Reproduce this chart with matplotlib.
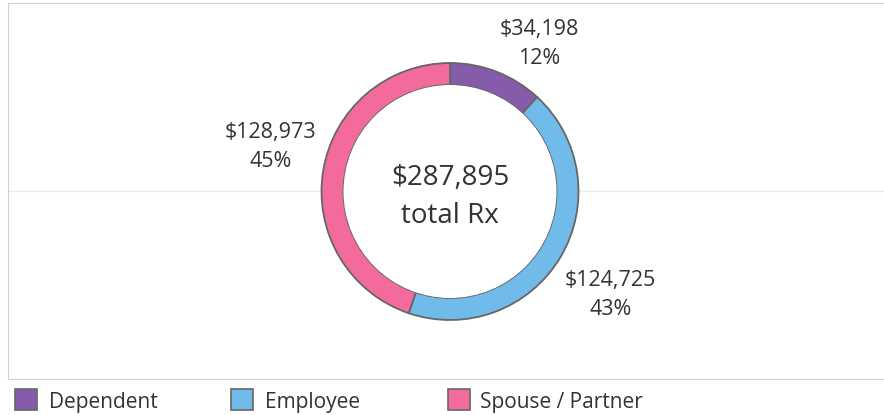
import matplotlib
matplotlib.use("Agg")
import matplotlib.pyplot as plt
from matplotlib.patches import Rectangle, Circle

# data
categories = ["Dependent", "Employee", "Spouse / Partner"]
values = [34198, 124725, 128973]
pct_labels = ["12%", "43%", "45%"]
total_rx = 287895
colors = ["#855CAA", "#71BBEB", "#F26B9C"]

plt.rcParams["font.family"] = ["Open Sans", "DejaVu Sans"]
TXT = "#333333"

W, H = 884, 415
fig = plt.figure(figsize=(W / 100, H / 100), dpi=100)

# plot frame, pixel units (right edge runs off the image)
fx0, fy0, fx1, fy1 = 8, 3, 890, 379
ax = fig.add_axes([fx0 / W, 1 - fy1 / H, (fx1 - fx0) / W, (fy1 - fy0) / H])
cx, cy = 450 - fx0, fy1 - 191.5
R, ring = 128.5, 22

ax.axhline(cy, color="#ececec", lw=1, zorder=0)
wedges, _ = ax.pie(values, colors=colors, startangle=90, counterclock=False,
                   radius=R, center=(cx, cy), frame=True,
                   wedgeprops=dict(width=ring, edgecolor="#666666", linewidth=1.3))
ax.add_patch(Circle((cx, cy), R - ring - 0.7, color="white", zorder=1))
ax.set_xlim(0, fx1 - fx0)
ax.set_ylim(0, fy1 - fy0)
ax.set_aspect("auto")
ax.set_xticks([])
ax.set_yticks([])
for s in ax.spines.values():
    s.set_color("#d0d0d0")

# label anchors: pixel offsets from the donut centre
label_pos = [(89, 150.5), (160.5, -100.5), (-179.5, 47.5)]
for v, p, (dx, dy) in zip(values, pct_labels, label_pos):
    ax.text(cx + dx, cy + dy + 14, f"${v:,}", ha="center", va="center_baseline",
            fontsize=15.5, color=TXT, zorder=3)
    ax.text(cx + dx, cy + dy - 15, p, ha="center", va="center_baseline",
            fontsize=15.5, color=TXT, zorder=3)

ax.text(cx, cy + 17, f"${total_rx:,}", ha="center", va="center_baseline",
        fontsize=20, color=TXT, zorder=3)
ax.text(cx, cy - 21, "total Rx", ha="center", va="center_baseline",
        fontsize=20, color=TXT, zorder=3)

# legend
sq_x = [15, 231, 448]
txt_x = [49, 265, 480]
for x, tx, c, lab in zip(sq_x, txt_x, colors, categories):
    fig.patches.append(Rectangle((x / W, 1 - 410 / H), 22 / W, 21 / H,
                                 transform=fig.transFigure,
                                 facecolor=c, edgecolor="#666666", lw=1.2))
    fig.text(tx / W, 1 - 400 / H, lab, ha="left", va="center_baseline",
             fontsize=15, color=TXT)

fig.savefig("out.png", dpi=100)
